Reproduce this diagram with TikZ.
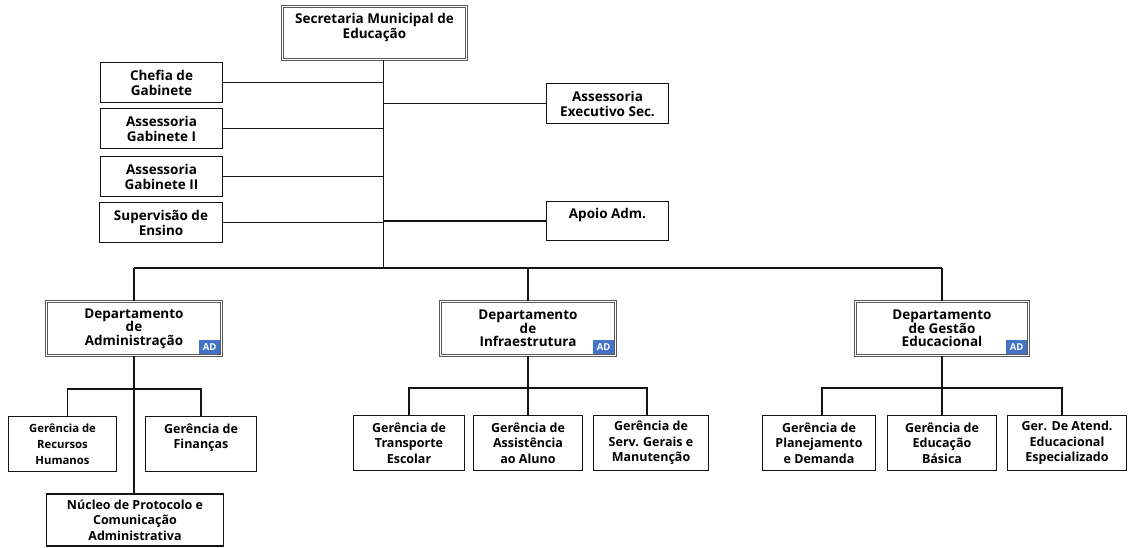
\documentclass[tikz,border=0pt]{standalone}
\usepackage{fontspec}
\setmainfont{Open Sans}
\definecolor{adblue}{RGB}{68,114,196}
\definecolor{ink}{RGB}{20,20,20}
\begin{document}
\begin{tikzpicture}[x=1pt,y=-1pt,
  box/.style={draw=ink, line width=1.3pt, fill=white, inner sep=0pt, align=center, text=black,
              font=\bfseries\fontsize{13.5}{15}\selectfont},
  dbox/.style={box, draw=black!65, double=white, double distance=1.8pt, line width=0.9pt,
              font=\bfseries\fontsize{13.5}{13.5}\selectfont},
  lowbox/.style={box, font=\bfseries\fontsize{12.5}{15.5}\selectfont},
  smallbox/.style={box, font=\bfseries\fontsize{11.3}{16}\selectfont},
  conn/.style={draw=ink, line width=1.3pt},
  adbadge/.style={fill=adblue, text=white, font=\bfseries\fontsize{9.5}{9.5}\selectfont,
              minimum width=21pt, minimum height=14pt, inner sep=0pt, anchor=south east}
]
\useasboundingbox (0,0) rectangle (1129,548);

% top
\node[dbox, font=\bfseries\fontsize{13.5}{15}\selectfont, minimum width=184pt, minimum height=53pt] (sec) at (374.5,33) {Secretaria Municipal de\\Educação\\~};

% left staff
\node[box, minimum width=122pt, minimum height=40pt] (chefia) at (161.5,82.5) {Chefia de\\Gabinete};
\node[box, minimum width=122pt, minimum height=40pt] (gab1) at (161.5,128.5) {Assessoria\\Gabinete I};
\node[box, minimum width=122pt, minimum height=40pt] (gab2) at (161.5,176.5) {Assessoria\\Gabinete II};
\node[box, minimum width=123pt, minimum height=40pt] (superv) at (161,222.5) {Supervisão de\\Ensino};

% right staff
\node[box, minimum width=122pt, minimum height=40pt] (assexec) at (607.5,103.5) {Assessoria\\Executivo Sec.};
\node[box, minimum width=122pt, minimum height=39pt] (apoio) at (607.5,221) {Apoio Adm.\\~};

% departments
\node[dbox, minimum width=175pt, minimum height=54pt] (adm) at (134,328.5) {Departamento\\de\\Administração};
\node[dbox, minimum width=175pt, minimum height=54pt] (infra) at (528,328.5) {Departamento\\de\\Infraestrutura};
\node[dbox, minimum width=173pt, minimum height=54pt] (gest) at (942,328.5) {Departamento\\de Gestão\\Educacional};
\node[adbadge] (adA) at ([shift={(-1.6,-1.6)}]adm.south east) {AD};
\node[adbadge] (adI) at ([shift={(-1.6,-1.6)}]infra.south east) {AD};
\node[adbadge] (adG) at ([shift={(-1.6,-1.6)}]gest.south east) {AD};

% admin children
\node[smallbox, minimum width=108pt, minimum height=55pt] (rh) at (62.5,444) {Gerência de\\Recursos\\Humanos};
\node[lowbox, minimum width=111pt, minimum height=55pt] (fin) at (201,444) {Gerência de\\Finanças\\~};
\node[lowbox, minimum width=177pt, minimum height=52pt] (nuc) at (135,520) {Núcleo de Protocolo e\\Comunicação\\Administrativa};

% infra children
\node[lowbox, minimum width=111pt, minimum height=55pt] (transp) at (409,443) {Gerência de\\Transporte\\Escolar};
\node[lowbox, minimum width=109pt, minimum height=55pt] (assist) at (528,443) {Gerência de\\Assistência\\ao Aluno};
\node[lowbox, minimum width=115pt, minimum height=55pt] (serv) at (651,443) {Gerência de\\Serv. Gerais e\\Manutenção};

% gestao children
\node[lowbox, minimum width=113pt, minimum height=55pt] (plan) at (819,443) {Gerência de\\Planejamento\\e Demanda};
\node[lowbox, minimum width=109pt, minimum height=55pt] (educ) at (942,443) {Gerência de\\Educação\\Básica};
\node[lowbox, minimum width=119pt, minimum height=55pt] (esp) at (1067,443) {Ger. De Atend.\\Educacional\\Especializado};

% spine and bus
\coordinate (spT) at ([xshift=9pt]sec.south);
\coordinate (spB) at (383.5,268);
\draw[conn] (spT) -- (spB);
\draw[conn] (adm.north |- spB) -- (gest.north |- spB);
\foreach \d in {adm,infra,gest} \draw[conn] (\d.north) -- (\d.north |- spB);
\foreach \s in {chefia,gab1,gab2,superv} \draw[conn] (\s.east) -- (\s.east -| spT);
\foreach \s in {assexec,apoio} \draw[conn] (\s.west) -- (\s.west -| spT);

% admin branch
\coordinate (rhT) at ([xshift=5pt]rh.north);
\coordinate (abus) at (135,389);
\draw[conn] (adm.south) -- (adm.south |- nuc.north);
\draw[conn] (rhT) |- (abus) -| (fin.north);

% infra branch
\coordinate (ibus) at (528,388);
\coordinate (servT) at ([xshift=-4pt]serv.north);
\draw[conn] (infra.south) -- (ibus);
\draw[conn] (transp.north) |- (ibus) -| (servT);
\draw[conn] (assist.north) -- (ibus);

% gestao branch
\coordinate (gbus) at (942,388);
\coordinate (planT) at ([xshift=3pt]plan.north);
\coordinate (espT) at ([xshift=-5pt]esp.north);
\draw[conn] (gest.south) -- (gbus);
\draw[conn] (planT) |- (gbus) -| (espT);
\draw[conn] (educ.north) -- (gbus);
\end{tikzpicture}
\end{document}
